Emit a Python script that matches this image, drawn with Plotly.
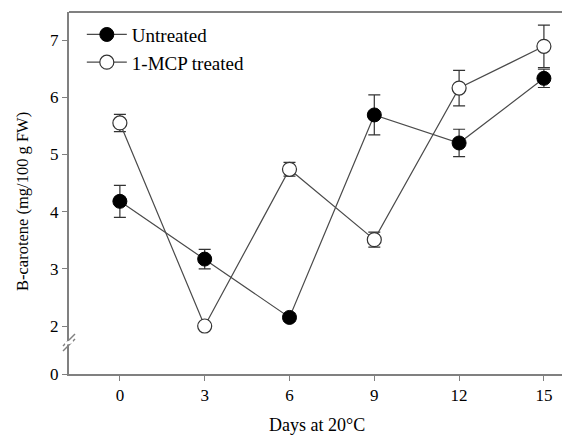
import plotly.graph_objects as go

days = [0, 3, 6, 9, 12, 15]
untreated = [4.18, 3.17, 2.15, 5.69, 5.20, 6.33]
untreated_err = [0.28, 0.17, 0.07, 0.35, 0.24, 0.16]
mcp = [5.55, 2.00, 4.74, 3.51, 6.16, 6.89]
mcp_err = [0.15, 0.03, 0.12, 0.13, 0.31, 0.37]
y_tickvals = [1.161, 2, 3, 4, 5, 6, 7]
y_ticktext = ["0", "2", "3", "4", "5", "6", "7"]
x_ticks = [0, 3, 6, 9, 12, 15]

FONT = "Liberation Serif"
LINE = "#4a4a4a"
AX = "#808080"

fig = go.Figure()
fig.add_trace(go.Scatter(
    x=days, y=untreated, name="Untreated", mode="lines+markers",
    line=dict(color=LINE, width=1.2),
    marker=dict(symbol="circle", size=14, color="black", line=dict(color="black", width=1)),
    error_y=dict(type="data", array=untreated_err, color="#333333", thickness=1.2, width=6),
))
fig.add_trace(go.Scatter(
    x=days, y=mcp, name="1-MCP treated", mode="lines+markers",
    line=dict(color=LINE, width=1.2),
    marker=dict(symbol="circle", size=14, color="white", line=dict(color="#333333", width=1.2)),
    error_y=dict(type="data", array=mcp_err, color="#333333", thickness=1.2, width=6),
))

fig.update_layout(
    width=562, height=436,
    margin=dict(l=69, r=0, t=12, b=62),
    paper_bgcolor="white", plot_bgcolor="white",
    font=dict(family=FONT, color="black", size=17),
    showlegend=True,
    legend=dict(x=0.026, y=0.99, xanchor="left", yanchor="top",
                bgcolor="rgba(0,0,0,0)", font=dict(size=19, family=FONT),
                itemwidth=40, tracegroupgap=0),
    xaxis=dict(range=[-1.8, 15.64], tickvals=x_ticks, ticks="outside", ticklen=5,
               tickcolor=AX, showline=True, linecolor=AX, linewidth=2, showgrid=False,
               zeroline=False, tickfont=dict(size=17)),
    yaxis=dict(range=[1.161, 7.49], tickvals=y_tickvals, ticktext=y_ticktext,
               ticks="outside", ticklen=5, tickcolor=AX, showline=True, linecolor=AX,
               linewidth=2, showgrid=False, zeroline=False, tickfont=dict(size=17)),
)

# top frame line
fig.add_shape(type="line", xref="paper", yref="paper", x0=0, x1=1, y0=1, y1=1,
              line=dict(color=AX, width=2))

# axis break marks
def py2y(py):
    return 2 - (py - 326) / 57.2

W = 493.0
for (px0, py0, px1, py1) in [(63, 346, 75, 334), (63, 351, 75, 339)]:
    fig.add_shape(type="line", xref="paper", yref="y",
                  x0=(px0 - 69) / W, x1=(px1 - 69) / W, y0=py2y(py0), y1=py2y(py1),
                  line=dict(color=AX, width=1.5))
fig.add_shape(type="line", xref="paper", yref="y",
              x0=(65 - 69) / W, x1=(73 - 69) / W, y0=py2y(343.5), y1=py2y(341.5),
              line=dict(color="white", width=3), layer="above")

fig.add_annotation(text="Days at 20°C", xref="paper", yref="paper", x=(317 - 69) / W,
                   y=-(425 - 374) / 362, xanchor="center", yanchor="middle",
                   showarrow=False, font=dict(size=18, family=FONT))
fig.add_annotation(text="B-carotene (mg/100 g FW)", xref="paper", yref="paper",
                   x=-(69 - 22) / W, y=(374 - 202) / 362, xanchor="center", yanchor="middle",
                   textangle=-90, showarrow=False, font=dict(size=16.5, family=FONT))

fig.write_html("out.html")
